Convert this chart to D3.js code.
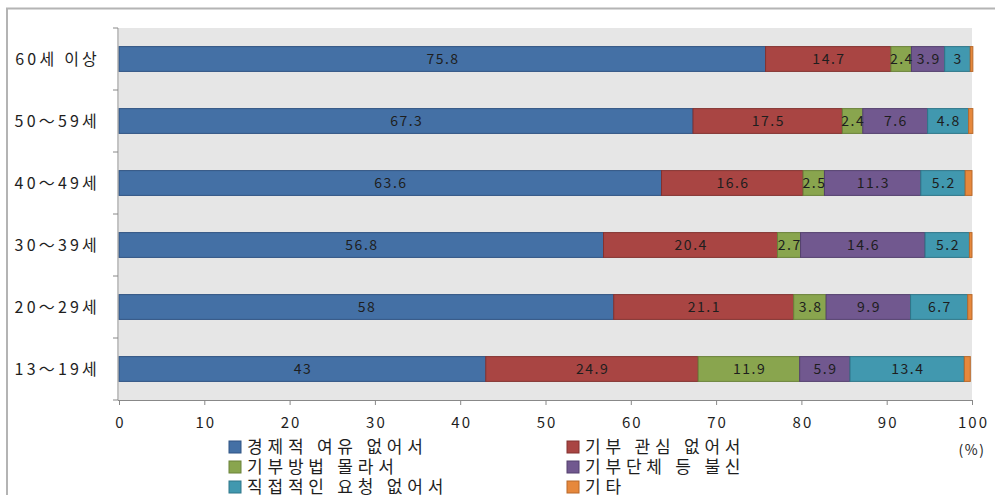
<!DOCTYPE html>
<html>
<head>
<meta charset="utf-8">
<script src="https://cdn.jsdelivr.net/npm/d3@7"></script>
<style>
  body { margin: 0; background: #fff; }
  svg { display: block; font-family: "Noto Sans CJK KR", "DejaVu Sans", sans-serif; }
</style>
</head>
<body>
<svg id="chart" width="995" height="495"></svg>
<script>
// age groups, top to bottom
var ageGroups = ["60세 이상", "50～59세", "40～49세", "30～39세", "20～29세", "13～19세"];
var reasons = ["경제적 여유 없어서", "기부 관심 없어서", "기부방법 몰라서", "기부단체 등 불신", "직접적인 요청 없어서", "기타"];

var noMoney     = [75.8, 67.3, 63.6, 56.8, 58, 43];
var noInterest  = [14.7, 17.5, 16.6, 20.4, 21.1, 24.9];
var dontKnowHow = [2.4, 2.4, 2.5, 2.7, 3.8, 11.9];
var distrust    = [3.9, 7.6, 11.3, 14.6, 9.9, 5.9];
var noRequest   = [3, 4.8, 5.2, 5.2, 6.7, 13.4];
var other       = [0.3, 0.5, 0.8, 0.3, 0.5, 0.7];

var xTicks = [0, 10, 20, 30, 40, 50, 60, 70, 80, 90, 100];

var fills = ["#4470a5", "#a94543", "#89a54e", "#71588f", "#4198af", "#e6883c"];
var strokes = ["#2f5383", "#833230", "#6a8239", "#54406e", "#2e7689", "#b8692a"];

var series = [noMoney, noInterest, dontKnowHow, distrust, noRequest, other];

var rows = ageGroups.map(function (g, i) {
    var row = {group: g};
    reasons.forEach(function (r, k) { row[r] = series[k][i]; });
    return row;
});

var stacked = d3.stack().keys(reasons)(rows);

var svg = d3.select("#chart");
var plotLeft = 119, plotRight = 972, plotTop = 28, plotBottom = 400;

var x = d3.scaleLinear().domain([0, 100]).range([plotLeft, plotRight]);
var y = d3.scaleBand().domain(ageGroups).range([plotTop, plotBottom]).paddingInner(0.6).paddingOuter(0.3);

// outer frame
svg.append("path")
    .attr("d", "M7,495 L7,8.5 L995,8.5")
    .attr("fill", "none")
    .attr("stroke", "#b4b4b4")
    .attr("stroke-width", 2);

// plot area
svg.append("rect")
    .attr("x", plotLeft).attr("y", plotTop)
    .attr("width", plotRight - plotLeft).attr("height", plotBottom - plotTop)
    .attr("fill", "#e6e6e6");

var layer = svg.append("g").selectAll("g")
    .data(stacked)
    .join("g")
    .attr("fill", function (d, i) { return fills[i]; })
    .attr("stroke", function (d, i) { return strokes[i]; });

layer.selectAll("rect")
    .data(function (d) { return d; })
    .join("rect")
    .attr("x", function (d) { return x(d[0]); })
    .attr("y", function (d) { return y(d.data.group); })
    .attr("width", function (d) { return x(d[1]) - x(d[0]); })
    .attr("height", y.bandwidth())
    .attr("stroke-width", 1);

// value labels (none for 기타)
stacked.slice(0, 5).forEach(function (s) {
    svg.append("g").selectAll("text")
        .data(s)
        .join("text")
        .attr("x", function (d) { return (x(d[0]) + x(d[1])) / 2; })
        .attr("y", function (d) { return y(d.data.group) + y.bandwidth() / 2; })
        .attr("dy", "0.36em")
        .attr("dx", 0.7)
        .attr("text-anchor", "middle")
        .attr("font-size", 14)
        .attr("letter-spacing", 1.5)
        .attr("fill", "#1e1e1e")
        .text(function (d) { return +(d[1] - d[0]).toFixed(1); });
});

// y axis
var yAxis = svg.append("g");
yAxis.append("line")
    .attr("x1", plotLeft - 1).attr("x2", plotLeft - 1)
    .attr("y1", plotTop).attr("y2", plotBottom)
    .attr("stroke", "#888");
d3.range(ageGroups.length + 1).forEach(function (i) {
    var yy = plotTop + i * (plotBottom - plotTop) / ageGroups.length;
    yAxis.append("line")
        .attr("x1", plotLeft - 6).attr("x2", plotLeft - 1)
        .attr("y1", yy).attr("y2", yy)
        .attr("stroke", "#888");
});
yAxis.selectAll("text")
    .data(ageGroups)
    .join("text")
    .attr("x", 100)
    .attr("y", function (d) { return y(d) + y.bandwidth() / 2; })
    .attr("dy", "0.36em")
    .attr("text-anchor", "end")
    .attr("font-size", 16)
    .attr("letter-spacing", 3.2)
    .attr("fill", "#1e1e1e")
    .text(function (d) { return d; });

// x axis
var xAxis = svg.append("g")
    .attr("transform", "translate(0," + plotBottom + ")")
    .call(d3.axisBottom(x).tickValues(xTicks).tickSize(5).tickSizeOuter(0));
xAxis.select(".domain").attr("stroke", "#888").attr("d", "M" + (plotLeft - 1) + ",0.5H" + plotRight);
xAxis.selectAll(".tick line").attr("stroke", "#888");
xAxis.selectAll(".tick text")
    .attr("y", 17)
    .attr("dx", 1)
    .attr("font-size", 15)
    .attr("letter-spacing", 2)
    .attr("font-family", "\"Noto Sans CJK KR\", sans-serif")
    .attr("fill", "#1e1e1e");

svg.append("text")
    .attr("x", 972).attr("y", 455)
    .attr("text-anchor", "middle")
    .attr("font-size", 14)
    .attr("letter-spacing", 1.5)
    .attr("fill", "#1e1e1e")
    .text("(%)");

// legend, two columns
var legend = svg.append("g").selectAll("g")
    .data(reasons)
    .join("g")
    .attr("transform", function (d, i) {
        var col = i % 2, row = Math.floor(i / 2);
        return "translate(" + (col === 0 ? 229 : 567) + "," + (447 + row * 20) + ")";
    });
legend.append("rect")
    .attr("x", 0).attr("y", -6)
    .attr("width", 12).attr("height", 12)
    .attr("fill", function (d, i) { return fills[i]; })
    .attr("stroke", function (d, i) { return strokes[i]; });
legend.append("text")
    .attr("x", 18)
    .attr("dy", "0.36em")
    .attr("font-size", 17)
    .attr("letter-spacing", 4.8)
    .attr("fill", "#1e1e1e")
    .text(function (d) { return d; });
</script>
</body>
</html>
